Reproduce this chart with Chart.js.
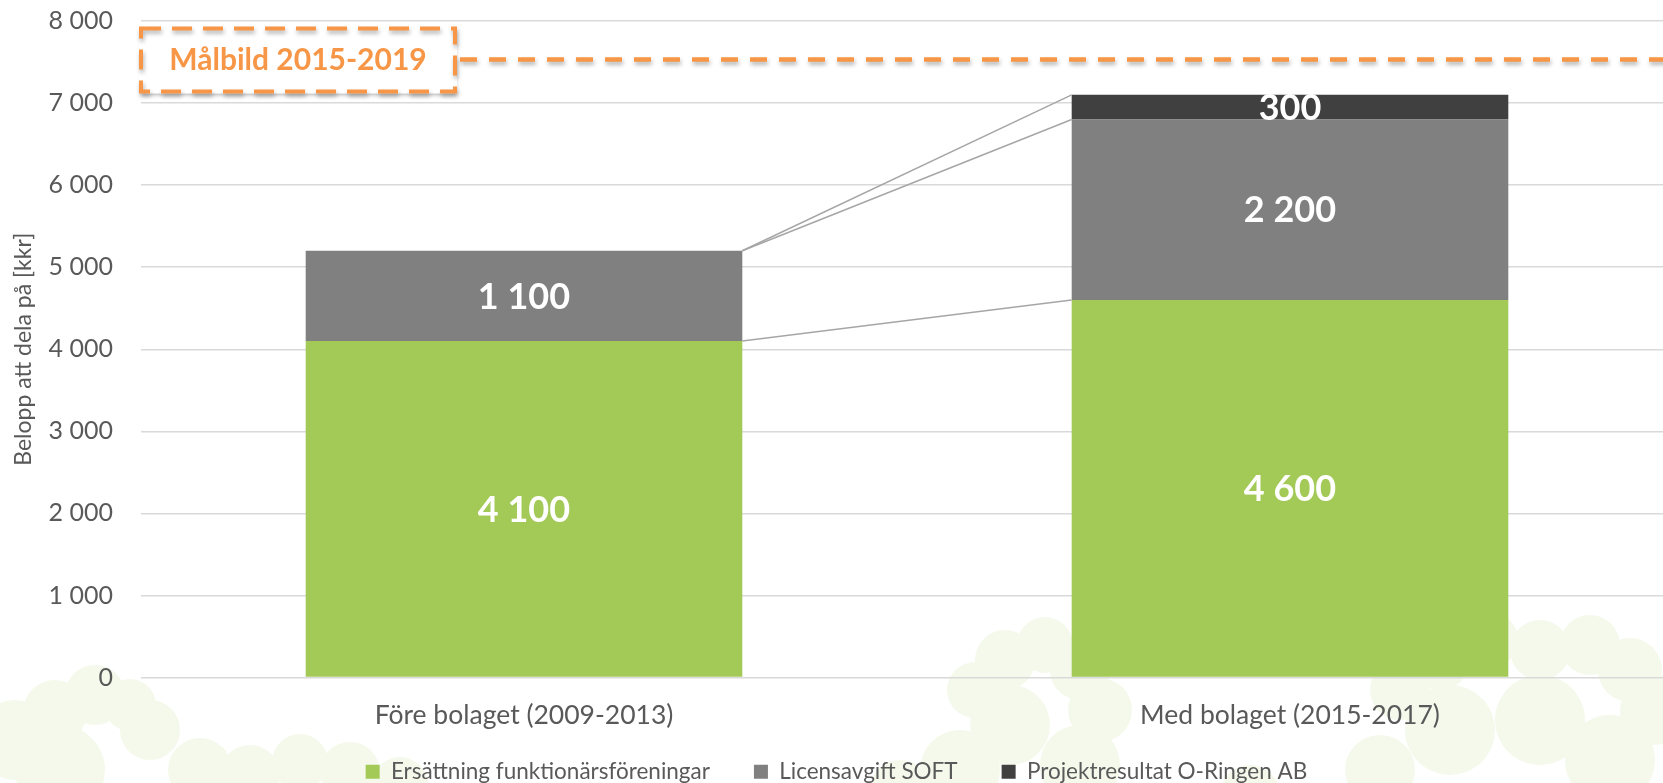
<!DOCTYPE html>
<html>
<head>
<meta charset="utf-8">
<script src="https://cdn.jsdelivr.net/npm/chart.js@4"></script>
<style>
  html, body { margin: 0; padding: 0; background: #fff; overflow: hidden; }
  #wrap { width: 1700px; height: 808px; }
</style>
</head>
<body>
<div id="wrap"><canvas id="c"></canvas></div>
<script>
// Data
const categories = ['Före bolaget (2009-2013)', 'Med bolaget (2015-2017)'];
const seriesNames = ['Ersättning funktionärsföreningar', 'Licensavgift SOFT', 'Projektresultat O-Ringen AB'];
const ersattning = [4100, 4600];
const licensavgift = [1100, 2200];
const projektresultat = [0, 300];
const yTicks = [0, 1000, 2000, 3000, 4000, 5000, 6000, 7000, 8000];
const malbildValue = 7530;
const malbildLabel = 'Målbild 2015-2019';

const seriesColors = ['#A3C957', '#808080', '#404040'];
const orange = '#F79646';
const textGray = '#595959';

Chart.defaults.font.family = 'Lato, "Noto Sans", sans-serif';

const fmt = v => String(v).replace(/\B(?=(\d{3})+(?!\d))/g, ' ');

// faint tree silhouettes in the background
const treesBg = {
    id: 'treesBg',
    beforeDraw(chart) {
        const ctx = chart.ctx;
        const blobs = [
            [15, 740, 40], [55, 712, 32], [95, 695, 30], [130, 705, 26], [150, 730, 30], [60, 770, 45],
            [200, 770, 32], [250, 775, 30], [300, 762, 28], [350, 772, 30], [400, 785, 28],
            [975, 690, 28], [1005, 660, 30], [1045, 645, 28], [1080, 670, 30], [1100, 710, 32], [1010, 725, 40], [960, 770, 40], [1080, 765, 40],
            [1400, 690, 30], [1440, 660, 30], [1490, 640, 28], [1540, 650, 30], [1590, 645, 30], [1630, 670, 32], [1655, 710, 35],
            [1450, 730, 45], [1540, 720, 45], [1610, 760, 45], [1380, 770, 35],
            [900, 790, 30], [1250, 795, 30]
        ];
        ctx.save();
        ctx.fillStyle = '#F4F9EC';
        ctx.beginPath();
        blobs.forEach(([x, y, r]) => { ctx.moveTo(x + r, y); ctx.arc(x, y, r, 0, Math.PI * 2); });
        ctx.fill();
        ctx.restore();
    }
};

// legend sits a little higher, overlapping the axis box
const legendShift = {
    id: 'legendShift',
    afterLayout(chart) {
        chart.legend.top -= 15;
        chart.legend.bottom -= 15;
    }
};

// series lines between the two stacks
const seriesLines = {
    id: 'seriesLines',
    afterDatasetsDraw(chart) {
        const ctx = chart.ctx;
        ctx.save();
        ctx.strokeStyle = '#A6A6A6';
        ctx.lineWidth = 1.5;
        chart.data.datasets.forEach((ds, i) => {
            const bars = chart.getDatasetMeta(i).data;
            const a = bars[0], b = bars[1];
            ctx.beginPath();
            ctx.moveTo(a.x + a.width / 2, a.y);
            ctx.lineTo(b.x - b.width / 2, b.y);
            ctx.stroke();
        });
        ctx.restore();
    }
};

// value labels inside segments
const valueLabels = {
    id: 'valueLabels',
    afterDatasetsDraw(chart) {
        const ctx = chart.ctx;
        ctx.save();
        ctx.fillStyle = '#fff';
        ctx.font = 'bold 36px Lato, "Noto Sans", sans-serif';
        ctx.textAlign = 'center';
        ctx.textBaseline = 'middle';
        chart.data.datasets.forEach((ds, i) => {
            chart.getDatasetMeta(i).data.forEach((bar, j) => {
                const v = ds.data[j];
                if (!v) return;
                ctx.fillText(fmt(v), bar.x, (bar.y + bar.base) / 2 + 1);
            });
        });
        ctx.restore();
    }
};

// target line with label box
const malbild = {
    id: 'malbild',
    afterDraw(chart) {
        const ctx = chart.ctx;
        const area = chart.chartArea;
        const y = chart.scales.y.getPixelForValue(malbildValue);
        ctx.save();
        ctx.shadowColor = 'rgba(0,0,0,0.3)';
        ctx.shadowBlur = 4;
        ctx.shadowOffsetX = 1;
        ctx.shadowOffsetY = 3;
        ctx.strokeStyle = orange;
        ctx.lineWidth = 4.5;
        ctx.setLineDash([17, 12]);
        ctx.beginPath();
        ctx.moveTo(area.left, y);
        ctx.lineTo(chart.width, y);
        ctx.stroke();

        const bx = area.left, bw = 314, bh = 63, by = y - 31;
        ctx.setLineDash([]);
        ctx.fillStyle = '#fff';
        ctx.fillRect(bx, by, bw, bh);
        ctx.shadowColor = 'transparent';
        ctx.fillRect(bx - 2, by - 2, bw + 4, bh + 4);
        ctx.shadowColor = 'rgba(0,0,0,0.3)';
        ctx.setLineDash([20, 11]);
        ctx.lineWidth = 4;
        ctx.strokeRect(bx, by, bw, bh);
        ctx.shadowColor = 'transparent';
        ctx.fillStyle = orange;
        ctx.font = 'bold 30px Lato, "Noto Sans", sans-serif';
        ctx.textAlign = 'center';
        ctx.textBaseline = 'middle';
        ctx.fillText(malbildLabel, bx + bw / 2, y + 1);
        ctx.restore();
    }
};

new Chart(document.getElementById('c'), {
    type: 'bar',
    data: {
        labels: categories,
        datasets: [
            { label: seriesNames[0], data: ersattning, backgroundColor: seriesColors[0] },
            { label: seriesNames[1], data: licensavgift, backgroundColor: seriesColors[1] },
            { label: seriesNames[2], data: projektresultat, backgroundColor: seriesColors[2] }
        ]
    },
    options: {
        responsive: true,
        maintainAspectRatio: false,
        animation: false,
        categoryPercentage: 1,
        barPercentage: 0.57,
        layout: { autoPadding: false, padding: { top: 21, right: 27, left: 0, bottom: 0 } },
        plugins: {
            tooltip: { enabled: false },
            legend: {
                position: 'bottom',
                labels: { boxWidth: 14, boxHeight: 14, padding: 44, color: textGray, font: { size: 22.5 } }
            }
        },
        scales: {
            x: {
                stacked: true,
                grid: { display: false, drawTicks: false },
                border: { display: false },
                ticks: { padding: 22, color: textGray, font: { size: 26.5 }, maxRotation: 0 },
                afterFit: s => { s.height = 54; }
            },
            y: {
                stacked: true,
                min: 0,
                max: 8000,
                afterBuildTicks: s => { s.ticks = yTicks.map(v => ({ value: v })); },
                ticks: { padding: 28, color: textGray, font: { size: 25 }, callback: v => fmt(v) },
                grid: { color: '#D9D9D9', lineWidth: 1.5, drawTicks: false },
                border: { display: false },
                title: { display: true, text: 'Belopp att dela på [kkr]', color: textGray, font: { size: 23 }, padding: { top: 10, bottom: 0 } },
                afterFit: s => { s.width = 141; s.paddingTop = 0; s.paddingBottom = 0; }
            }
        }
    },
    plugins: [treesBg, legendShift, seriesLines, valueLabels, malbild]
});
</script>
</body>
</html>
